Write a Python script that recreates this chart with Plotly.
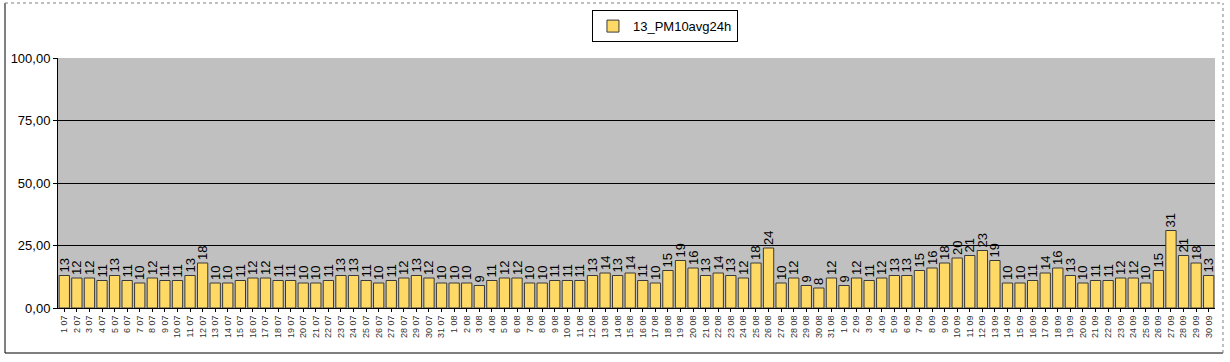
import plotly.graph_objects as go

july = [13, 12, 12, 11, 13, 11, 10, 12, 11, 11, 13, 18, 10, 10, 11, 12, 12, 11, 11, 10,
        10, 11, 13, 13, 11, 10, 11, 12, 13, 12, 10]
august = [10, 10, 9, 11, 12, 12, 10, 10, 11, 11, 11, 13, 14, 13, 14, 11, 10, 15, 19, 16,
          13, 14, 13, 12, 18, 24, 10, 12, 9, 8, 12]
september = [9, 12, 11, 12, 13, 13, 15, 16, 18, 20, 21, 23, 19, 10, 10, 11, 14, 16, 13, 10,
             11, 11, 12, 12, 10, 15, 31, 21, 18, 13]

labels = ([f"{d} 07" for d in range(1, 32)] + [f"{d} 08" for d in range(1, 32)]
          + [f"{d} 09" for d in range(1, 31)])
values = july + august + september
series_name = "13_PM10avg24h"
y_ticks = [0, 25, 50, 75, 100]
y_tick_text = ["0,00", "25,00", "50,00", "75,00", "100,00"]

fig = go.Figure()
fig.add_trace(go.Bar(
    x=labels, y=values, name=series_name,
    marker=dict(color="#FFD966", line=dict(color="#3a3a3a", width=1)),
    text=[str(v) for v in values], textposition="outside", textangle=-90,
    constraintext="none", cliponaxis=False,
    textfont=dict(family="Liberation Sans, Arial", size=13, color="#000000"),
    showlegend=True,
))

fig.update_layout(
    width=1230, height=362,
    margin=dict(l=58, r=15, t=58, b=54, autoexpand=False),
    paper_bgcolor="white", plot_bgcolor="#C0C0C0",
    bargap=0.18,
    font=dict(family="Liberation Sans, Arial", color="#000000"),
    showlegend=True,
    legend=dict(orientation="h", x=0.5246, xanchor="center", y=0.972, yanchor="top",
                yref="container", bordercolor="#000000", borderwidth=1,
                font=dict(size=13), bgcolor="white", itemwidth=30),
    shapes=[
        dict(type="line", xref="paper", yref="paper", x0=-0.0458, x1=-0.0458,
             y0=-0.18, y1=1.22, line=dict(color="#000000", width=1)),
        dict(type="line", xref="paper", yref="paper", x0=-0.0458, x1=1.0069,
             y0=-0.18, y1=-0.18, line=dict(color="#000000", width=1)),
        dict(type="line", xref="paper", yref="paper", x0=-0.0458, x1=1.0069,
             y0=1.22, y1=1.22, line=dict(color="#808080", width=1, dash="dot")),
        dict(type="line", xref="paper", yref="paper", x0=1.0069, x1=1.0069,
             y0=-0.18, y1=1.22, line=dict(color="#808080", width=1, dash="dot")),
    ],
)

fig.update_xaxes(type="category", tickangle=-90, tickfont=dict(size=9, color="#333333"),
                 showline=True, linecolor="#000000", linewidth=1, ticks="outside",
                 ticklen=3, tickcolor="#000000", showgrid=False, mirror=False,
                 automargin=False)
fig.update_yaxes(range=[0, 100], tickvals=y_ticks, ticktext=y_tick_text,
                 tickfont=dict(size=13, color="#000000"), showline=True,
                 linecolor="#000000", linewidth=1, ticks="outside", ticklen=4,
                 tickcolor="#000000", showgrid=True, gridcolor="#000000", gridwidth=1,
                 zeroline=False, automargin=False)

fig.write_html("out.html", config={"displayModeBar": False},
               post_script="document.body.style.margin='0';")
